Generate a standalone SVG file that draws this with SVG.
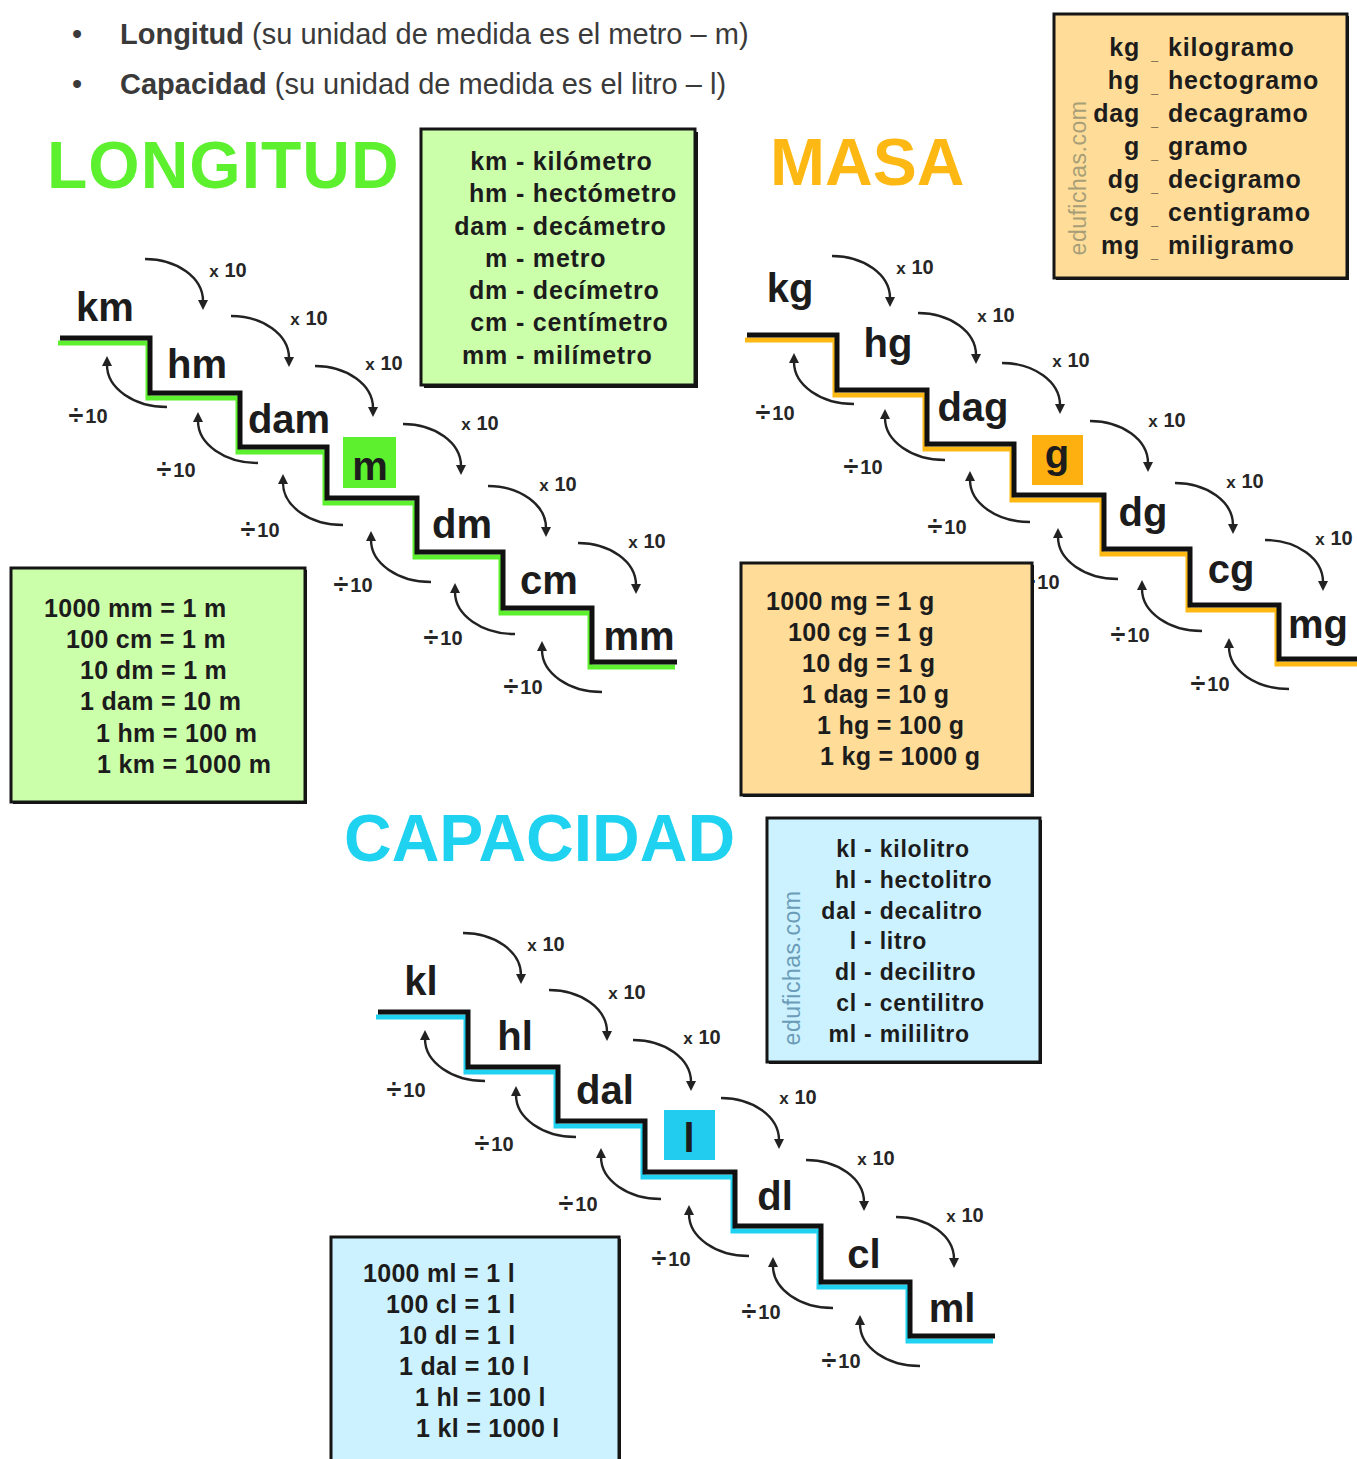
<svg xmlns="http://www.w3.org/2000/svg" width="1357" height="1459" viewBox="0 0 1357 1459">
<style>
text{font-family:"Liberation Sans",Arial,Helvetica,sans-serif}
.head{font-size:29px;fill:#3a3a3a}
.title{font-size:66px;font-weight:bold}
.unit{font-size:40px;font-weight:bold;fill:#1c1c1c;text-anchor:middle}
.op{font-size:20px;font-weight:bold;fill:#262626;text-anchor:middle}
.dv{font-size:27px}
.xs{font-size:17px}
.def{font-size:25px;font-weight:bold;fill:#1c1c1c;letter-spacing:0.8px}
.defc{font-size:23px}
.eq{font-size:25px;font-weight:bold;fill:#1c1c1c;letter-spacing:0.3px}
.end{text-anchor:end}
.us{font-size:13px;font-weight:bold;fill:#1c1c1c}
.arc{fill:none;stroke:#222;stroke-width:2.4;marker-end:url(#ah)}
.stair{fill:none;stroke:#111;stroke-width:5}
.shadow{fill:none;stroke-width:5}
.box{stroke:#151515;stroke-width:3}
.boxsh{fill:#151515}
.wm{font-size:23px;letter-spacing:0.5px;text-anchor:middle}
</style>
<defs>
<marker id="ah" viewBox="0 0 10 10" refX="1" refY="5" markerWidth="10" markerHeight="10" markerUnits="userSpaceOnUse" orient="auto"><path d="M0,0 L10,5 L0,10 z" fill="#222"/></marker>
<path id="stairpath" d="M60,338 H150 V393 H240 V447 H327 V498 H417 V552 H503 V608 H592 V662 H677"/>
</defs>

<g id="header">
<text class="head" x="72" y="44">•</text>
<text class="head" x="120" y="44"><tspan font-weight="bold">Longitud</tspan> (su unidad de medida es el metro – m)</text>
<text class="head" x="72" y="94">•</text>
<text class="head" x="120" y="94"><tspan font-weight="bold">Capacidad</tspan> (su unidad de medida es el litro – l)</text>
</g>

<g id="titles">
<text id="title-longitud" class="title" x="47" y="188" fill="#5cf02e" letter-spacing="1">LONGITUD</text>
<text id="title-masa" class="title" x="770" y="185" fill="#fdb813">MASA</text>
<text id="title-capacidad" class="title" x="344" y="861" fill="#1ed2f0">CAPACIDAD</text>
</g>

<!-- LONGITUD -->
<g id="longitud">
<g id="stair-longitud">
<use href="#stairpath" class="shadow" stroke="#5cf02e" transform="translate(-2,5)"/>
<use href="#stairpath" class="stair"/>
</g>
<g id="node-km"><text class="unit" x="105" y="321">km</text></g>
<g id="node-hm"><text class="unit" x="197" y="378">hm</text></g>
<g id="node-dam"><text class="unit" x="289" y="433">dam</text></g>
<g id="node-m"><rect x="343" y="437" width="53" height="51" fill="#5cf02e"/><text class="unit" x="370" y="480">m</text></g>
<g id="node-dm"><text class="unit" x="462" y="538">dm</text></g>
<g id="node-cm"><text class="unit" x="549" y="594">cm</text></g>
<g id="node-mm"><text class="unit" x="639" y="650">mm</text></g>
<g id="connectors-longitud">
<path class="arc" d="M145,259 A58,42 0 0 1 203,301"/>
<path class="arc" d="M231,316 A58,42 0 0 1 289,358"/>
<path class="arc" d="M315,366 A58,42 0 0 1 373,408"/>
<path class="arc" d="M403,424 A58,42 0 0 1 461,466"/>
<path class="arc" d="M488,486 A58,42 0 0 1 546,528"/>
<path class="arc" d="M578,543 A58,42 0 0 1 636,585"/>
<path class="arc" d="M167,407 A60,42 0 0 1 107,365"/>
<path class="arc" d="M258,463 A60,42 0 0 1 198,421"/>
<path class="arc" d="M343,525 A60,42 0 0 1 283,483"/>
<path class="arc" d="M431,582 A60,42 0 0 1 371,540"/>
<path class="arc" d="M515,634 A60,42 0 0 1 455,592"/>
<path class="arc" d="M602,692 A60,42 0 0 1 542,650"/>
<text class="op" x="228" y="277"><tspan class="xs">x</tspan> 10</text>
<text class="op" x="309" y="325"><tspan class="xs">x</tspan> 10</text>
<text class="op" x="384" y="370"><tspan class="xs">x</tspan> 10</text>
<text class="op" x="480" y="430"><tspan class="xs">x</tspan> 10</text>
<text class="op" x="558" y="491"><tspan class="xs">x</tspan> 10</text>
<text class="op" x="647" y="548"><tspan class="xs">x</tspan> 10</text>
<text class="op" x="88" y="424"><tspan class="dv">÷</tspan><tspan dx="2" dy="-1">10</tspan></text>
<text class="op" x="176" y="478"><tspan class="dv">÷</tspan><tspan dx="2" dy="-1">10</tspan></text>
<text class="op" x="260" y="538"><tspan class="dv">÷</tspan><tspan dx="2" dy="-1">10</tspan></text>
<text class="op" x="353" y="593"><tspan class="dv">÷</tspan><tspan dx="2" dy="-1">10</tspan></text>
<text class="op" x="443" y="646"><tspan class="dv">÷</tspan><tspan dx="2" dy="-1">10</tspan></text>
<text class="op" x="523" y="695"><tspan class="dv">÷</tspan><tspan dx="2" dy="-1">10</tspan></text>
</g>
</g>

<!-- MASA -->
<g id="masa" transform="translate(687,-3)">
<g id="stair-masa">
<use href="#stairpath" class="shadow" stroke="#fdb813" transform="translate(-2,5)"/>
<use href="#stairpath" class="stair"/>
</g>
<g id="node-kg"><text class="unit" x="103" y="305">kg</text></g>
<g id="node-hg"><text class="unit" x="201" y="360">hg</text></g>
<g id="node-dag"><text class="unit" x="286" y="424">dag</text></g>
<g id="node-g"><rect x="345" y="438" width="51" height="50" fill="#fdb010"/><text class="unit" x="370" y="471">g</text></g>
<g id="node-dg"><text class="unit" x="456" y="529">dg</text></g>
<g id="node-cg"><text class="unit" x="544" y="586">cg</text></g>
<g id="node-mg"><text class="unit" x="631" y="641">mg</text></g>
<g id="connectors-masa">
<path class="arc" d="M145,259 A58,42 0 0 1 203,301"/>
<path class="arc" d="M231,316 A58,42 0 0 1 289,358"/>
<path class="arc" d="M315,366 A58,42 0 0 1 373,408"/>
<path class="arc" d="M403,424 A58,42 0 0 1 461,466"/>
<path class="arc" d="M488,486 A58,42 0 0 1 546,528"/>
<path class="arc" d="M578,543 A58,42 0 0 1 636,585"/>
<path class="arc" d="M167,407 A60,42 0 0 1 107,365"/>
<path class="arc" d="M258,463 A60,42 0 0 1 198,421"/>
<path class="arc" d="M343,525 A60,42 0 0 1 283,483"/>
<path class="arc" d="M431,582 A60,42 0 0 1 371,540"/>
<path class="arc" d="M515,634 A60,42 0 0 1 455,592"/>
<path class="arc" d="M602,692 A60,42 0 0 1 542,650"/>
<text class="op" x="228" y="277"><tspan class="xs">x</tspan> 10</text>
<text class="op" x="309" y="325"><tspan class="xs">x</tspan> 10</text>
<text class="op" x="384" y="370"><tspan class="xs">x</tspan> 10</text>
<text class="op" x="480" y="430"><tspan class="xs">x</tspan> 10</text>
<text class="op" x="558" y="491"><tspan class="xs">x</tspan> 10</text>
<text class="op" x="647" y="548"><tspan class="xs">x</tspan> 10</text>
<text class="op" x="88" y="424"><tspan class="dv">÷</tspan><tspan dx="2" dy="-1">10</tspan></text>
<text class="op" x="176" y="478"><tspan class="dv">÷</tspan><tspan dx="2" dy="-1">10</tspan></text>
<text class="op" x="260" y="538"><tspan class="dv">÷</tspan><tspan dx="2" dy="-1">10</tspan></text>
<text class="op" x="353" y="593"><tspan class="dv">÷</tspan><tspan dx="2" dy="-1">10</tspan></text>
<text class="op" x="443" y="646"><tspan class="dv">÷</tspan><tspan dx="2" dy="-1">10</tspan></text>
<text class="op" x="523" y="695"><tspan class="dv">÷</tspan><tspan dx="2" dy="-1">10</tspan></text>
</g>
</g>

<!-- CAPACIDAD -->
<g id="capacidad" transform="translate(318,674)">
<g id="stair-capacidad">
<use href="#stairpath" class="shadow" stroke="#1ed2f0" transform="translate(-2,5)"/>
<use href="#stairpath" class="stair"/>
</g>
<g id="node-kl"><text class="unit" x="103" y="321">kl</text></g>
<g id="node-hl"><text class="unit" x="197" y="376">hl</text></g>
<g id="node-dal"><text class="unit" x="287" y="430">dal</text></g>
<g id="node-l"><rect x="346" y="436" width="51" height="50" fill="#22ccee"/><text class="unit" x="371" y="478">l</text></g>
<g id="node-dl"><text class="unit" x="457" y="536">dl</text></g>
<g id="node-cl"><text class="unit" x="546" y="594">cl</text></g>
<g id="node-ml"><text class="unit" x="634" y="648">ml</text></g>
<g id="connectors-capacidad">
<path class="arc" d="M145,259 A58,42 0 0 1 203,301"/>
<path class="arc" d="M231,316 A58,42 0 0 1 289,358"/>
<path class="arc" d="M315,366 A58,42 0 0 1 373,408"/>
<path class="arc" d="M403,424 A58,42 0 0 1 461,466"/>
<path class="arc" d="M488,486 A58,42 0 0 1 546,528"/>
<path class="arc" d="M578,543 A58,42 0 0 1 636,585"/>
<path class="arc" d="M167,407 A60,42 0 0 1 107,365"/>
<path class="arc" d="M258,463 A60,42 0 0 1 198,421"/>
<path class="arc" d="M343,525 A60,42 0 0 1 283,483"/>
<path class="arc" d="M431,582 A60,42 0 0 1 371,540"/>
<path class="arc" d="M515,634 A60,42 0 0 1 455,592"/>
<path class="arc" d="M602,692 A60,42 0 0 1 542,650"/>
<text class="op" x="228" y="277"><tspan class="xs">x</tspan> 10</text>
<text class="op" x="309" y="325"><tspan class="xs">x</tspan> 10</text>
<text class="op" x="384" y="370"><tspan class="xs">x</tspan> 10</text>
<text class="op" x="480" y="430"><tspan class="xs">x</tspan> 10</text>
<text class="op" x="558" y="491"><tspan class="xs">x</tspan> 10</text>
<text class="op" x="647" y="548"><tspan class="xs">x</tspan> 10</text>
<text class="op" x="88" y="424"><tspan class="dv">÷</tspan><tspan dx="2" dy="-1">10</tspan></text>
<text class="op" x="176" y="478"><tspan class="dv">÷</tspan><tspan dx="2" dy="-1">10</tspan></text>
<text class="op" x="260" y="538"><tspan class="dv">÷</tspan><tspan dx="2" dy="-1">10</tspan></text>
<text class="op" x="353" y="593"><tspan class="dv">÷</tspan><tspan dx="2" dy="-1">10</tspan></text>
<text class="op" x="443" y="646"><tspan class="dv">÷</tspan><tspan dx="2" dy="-1">10</tspan></text>
<text class="op" x="523" y="695"><tspan class="dv">÷</tspan><tspan dx="2" dy="-1">10</tspan></text>
</g>
</g>

<!-- BOXES -->
<g id="box-def-longitud">
<rect x="424" y="132" width="274" height="256" class="boxsh"/>
<rect x="421" y="129" width="274" height="256" fill="#ccffaa" class="box"/>
<text class="def end" x="508" y="170">km</text><text class="def" x="516" y="170">- kilómetro</text>
<text class="def end" x="508" y="202">hm</text><text class="def" x="516" y="202">- hectómetro</text>
<text class="def end" x="508" y="235">dam</text><text class="def" x="516" y="235">- decámetro</text>
<text class="def end" x="508" y="267">m</text><text class="def" x="516" y="267">- metro</text>
<text class="def end" x="508" y="299">dm</text><text class="def" x="516" y="299">- decímetro</text>
<text class="def end" x="508" y="331">cm</text><text class="def" x="516" y="331">- centímetro</text>
<text class="def end" x="508" y="364">mm</text><text class="def" x="516" y="364">- milímetro</text>
</g>

<g id="box-eq-longitud">
<rect x="13" y="570" width="294" height="234" class="boxsh"/>
<rect x="11" y="568" width="294" height="234" fill="#ccffaa" class="box"/>
<text class="eq" x="44" y="617">1000 mm = 1 m</text>
<text class="eq" x="66" y="648">100 cm = 1 m</text>
<text class="eq" x="80" y="679">10 dm = 1 m</text>
<text class="eq" x="80" y="710">1 dam = 10 m</text>
<text class="eq" x="96" y="742">1 hm = 100 m</text>
<text class="eq" x="97" y="773">1 km = 1000 m</text>
</g>

<g id="box-def-masa">
<rect x="1056" y="16" width="293" height="264" class="boxsh"/>
<rect x="1054" y="14" width="293" height="264" fill="#ffdd99" class="box"/>
<text class="wm" transform="translate(1086,178) rotate(-90)" fill="#a89f78">edufichas.com</text>
<text class="def end" x="1140" y="56">kg</text><text class="us" x="1151" y="60">_</text><text class="def" x="1168" y="56">kilogramo</text>
<text class="def end" x="1140" y="89">hg</text><text class="us" x="1151" y="93">_</text><text class="def" x="1168" y="89">hectogramo</text>
<text class="def end" x="1140" y="122">dag</text><text class="us" x="1151" y="126">_</text><text class="def" x="1168" y="122">decagramo</text>
<text class="def end" x="1140" y="155">g</text><text class="us" x="1151" y="159">_</text><text class="def" x="1168" y="155">gramo</text>
<text class="def end" x="1140" y="188">dg</text><text class="us" x="1151" y="192">_</text><text class="def" x="1168" y="188">decigramo</text>
<text class="def end" x="1140" y="221">cg</text><text class="us" x="1151" y="225">_</text><text class="def" x="1168" y="221">centigramo</text>
<text class="def end" x="1140" y="254">mg</text><text class="us" x="1151" y="258">_</text><text class="def" x="1168" y="254">miligramo</text>
</g>

<g id="box-eq-masa">
<rect x="743" y="565" width="291" height="232" class="boxsh"/>
<rect x="741" y="563" width="291" height="232" fill="#ffdd99" class="box"/>
<text class="eq" x="766" y="610">1000 mg = 1 g</text>
<text class="eq" x="788" y="641">100 cg = 1 g</text>
<text class="eq" x="802" y="672">10 dg = 1 g</text>
<text class="eq" x="802" y="703">1 dag = 10 g</text>
<text class="eq" x="817" y="734">1 hg = 100 g</text>
<text class="eq" x="820" y="765">1 kg = 1000 g</text>
</g>

<g id="box-def-capacidad">
<rect x="769" y="820" width="273" height="244" class="boxsh"/>
<rect x="767" y="818" width="273" height="244" fill="#ccf2ff" class="box"/>
<text class="wm" transform="translate(800,968) rotate(-90)" fill="#6b9cb8">edufichas.com</text>
<text class="def defc end" x="857" y="857">kl</text><text class="def defc" x="864" y="857">- kilolitro</text>
<text class="def defc end" x="857" y="888">hl</text><text class="def defc" x="864" y="888">- hectolitro</text>
<text class="def defc end" x="857" y="919">dal</text><text class="def defc" x="864" y="919">- decalitro</text>
<text class="def defc end" x="857" y="949">l</text><text class="def defc" x="864" y="949">- litro</text>
<text class="def defc end" x="857" y="980">dl</text><text class="def defc" x="864" y="980">- decilitro</text>
<text class="def defc end" x="857" y="1011">cl</text><text class="def defc" x="864" y="1011">- centilitro</text>
<text class="def defc end" x="857" y="1042">ml</text><text class="def defc" x="864" y="1042">- mililitro</text>
</g>

<g id="box-eq-capacidad">
<rect x="333" y="1239" width="288" height="240" class="boxsh"/>
<rect x="331" y="1237" width="288" height="240" fill="#ccf2ff" class="box"/>
<text class="eq" x="363" y="1282">1000 ml = 1 l</text>
<text class="eq" x="386" y="1313">100 cl = 1 l</text>
<text class="eq" x="399" y="1344">10 dl = 1 l</text>
<text class="eq" x="399" y="1375">1 dal = 10 l</text>
<text class="eq" x="415" y="1406">1 hl = 100 l</text>
<text class="eq" x="416" y="1437">1 kl = 1000 l</text>
</g>
</svg>
